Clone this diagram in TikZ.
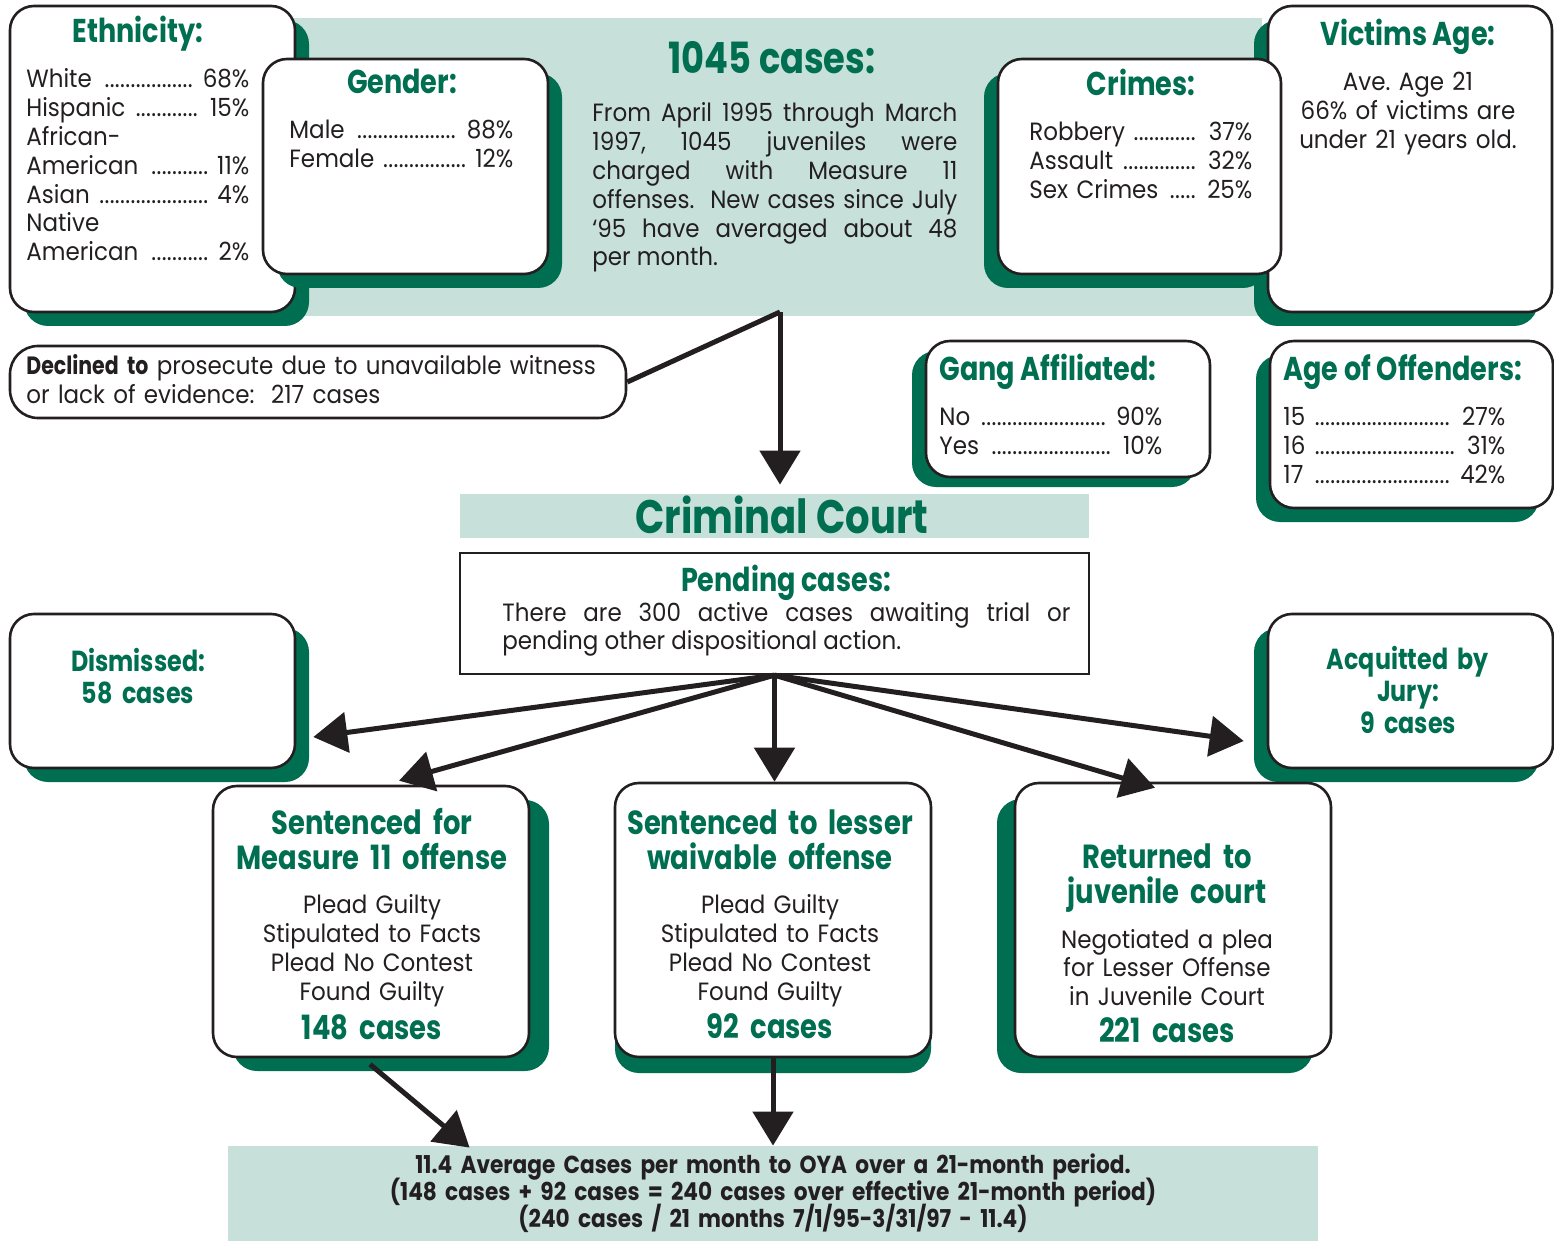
\documentclass[tikz,border=0pt]{standalone}
\usepackage{fontspec}
\setmainfont{Poppins}[UprightFeatures={FakeStretch=0.92}, BoldFeatures={FakeStretch=0.82}]
\newfontfamily\notefont{Poppins}[BoldFeatures={FakeStretch=0.88}]
\usetikzlibrary{arrows.meta,shadows,calc}
\definecolor{dkgreen}{RGB}{0,110,80}
\definecolor{paleg}{RGB}{199,224,217}
\definecolor{ink}{RGB}{35,31,32}
% dotted leader, a label/value row spanning the line, and a plain line
\newcommand\lead{\leaders\hbox to 2.6pt{\hss.\hss}\hfill}
\newcommand\lrow[2]{\noindent\hbox to\linewidth{#1\ \lead\ #2}\par}
\newcommand\lone[1]{\noindent\hbox{#1}\par}
% keep the baseline distance fixed even for tall lines
\newcommand\tightlines{\lineskiplimit=-\maxdimen\lineskip=0pt\relax}
\AtBeginDocument{\frenchspacing}

\begin{document}
\begin{tikzpicture}[x=0.5pt,y=-0.5pt,
  sz/.style 2 args={minimum width=#1*0.5pt, minimum height=#2*0.5pt},
  card/.style={draw=ink, line width=1.3pt, fill=white, rounded corners=12pt, inner sep=0pt},
  shad/.style 2 args={drop shadow={shadow xshift=#1*0.5pt, shadow yshift=-#2*0.5pt, fill=dkgreen, opacity=1}},
  band/.style={fill=paleg, inner sep=0pt},
  ttl/.style={font=\fontsize{16.5}{18}\selectfont\bfseries, text=dkgreen, inner sep=0pt, anchor=base},
  bigttl/.style={font=\fontsize{16.7}{17.5}\selectfont\bfseries, text=dkgreen, inner sep=0pt, anchor=base, align=center, text width=180pt},
  smttl/.style={font=\fontsize{14.5}{16}\selectfont\bfseries, text=dkgreen, inner sep=0pt, anchor=base, align=center, text width=140pt},
  bodyt/.style={font=\fontsize{12.5}{14.4}\selectfont, text=ink, inner sep=0pt},
  rows/.style={bodyt, anchor=base west, align=left, text width=#1*0.5pt},
  arr/.style={line width=2.5pt, draw=ink, -{Triangle[length=17pt,width=20pt]}},
  conn/.style={line width=2.5pt, draw=ink}]
\useasboundingbox (0,0) rectangle (1554,1241);

% top summary band
\node[band, sz={972}{298}] (topband) at (776,167) {};

% ethnicity and gender cards
\node[card, shad={14}{14}, sz={285}{306}] (eth) at (152.5,159) {};
\node[ttl] (eth-t) at (138,43) {Ethnicity:};
\node[rows=223] (eth-b) at (26,88) {%
  \lrow{White}{68\%}\lrow{Hispanic}{15\%}\lone{African-}%
  \lrow{American}{11\%}\lrow{Asian}{4\%}\lone{Native}\lrow{American}{2\%}};

\node[card, shad={14}{14}, sz={285}{215}] (gen) at (405.5,166.5) {};
\node[ttl] (gen-t) at (402,94) {Gender:};
\node[rows=224] (gen-b) at (289,139) {\lrow{Male}{88\%}\lrow{Female}{12\%}};

% totals paragraph
\node[font=\fontsize{21.5}{24}\selectfont\bfseries, text=dkgreen, inner sep=0pt, anchor=base] (tot-t) at (772,74) {1045 cases:};
\node[bodyt, anchor=base west, align=justify, text width=182.5pt] (tot-b) at (592,122) {%
  From April 1995 through March\linebreak 1997, 1045 juveniles were\linebreak
  charged with Measure 11\linebreak offenses.\ \ New cases since July\linebreak
  ‘95 have averaged about 48\linebreak per month.};

% victims and crimes cards
\node[card, shad={-14}{14}, sz={284}{306}] (vic) at (1410,159) {};
\node[ttl] (vic-t) at (1408,46) {Victims Age:};
\node[bodyt, anchor=base, align=center, text width=140pt] (vic-b) at (1408,91) {%
  Ave. Age 21\\66\% of victims are\\under 21 years old.};

\node[card, shad={-14}{14}, sz={283}{215}] (cri) at (1139.5,166.5) {};
\node[ttl] (cri-t) at (1141,96) {Crimes:};
\node[rows=223] (cri-b) at (1029,141) {%
  \lrow{Robbery}{37\%}\lrow{Assault}{32\%}\lrow{Sex Crimes}{25\%}};

% declined
\node[card, rounded corners=14pt, sz={616}{72}] (decl) at (318,382) {};
\node[bodyt, anchor=base west, align=left, text width=330pt] (decl-b) at (26,375) {%
  \textbf{Declined to} prosecute due to unavailable witness\\
  or lack of evidence:\ \ 217 cases};

% gang and offender age cards
\node[card, shad={-14}{10}, sz={284}{136}] (gang) at (1068,409) {};
\node[ttl, anchor=base west] (gang-t) at (939,380) {Gang Affiliated:};
\node[rows=223] (gang-b) at (939,426) {\lrow{No}{90\%}\lrow{Yes}{10\%}};

\node[card, shad={-14}{14}, sz={283}{167}] (age) at (1411.5,424.5) {};
\node[ttl, anchor=base west] (age-t) at (1283,380) {Age of Offenders:};
\node[rows=222] (age-b) at (1283,426) {%
  \lrow{15}{27\%}\lrow{16}{31\%}\lrow{17}{42\%}};

% criminal court
\node[band, sz={629}{44}] (court) at (774.5,516) {};
\node[font=\fontsize{23.5}{26}\selectfont\bfseries, text=dkgreen, inner sep=0pt, anchor=base] (court-t) at (782,533) {Criminal Court};

\node[draw=ink, line width=1.2pt, fill=white, inner sep=0pt, sz={629}{121}] (pend) at (774.5,613.5) {};
\node[font=\fontsize{16.5}{18}\selectfont\bfseries, text=dkgreen, inner sep=0pt, anchor=base] (pend-t) at (786,591) {Pending cases:};
\node[bodyt, anchor=base west, align=justify, text width=284pt] (pend-b) at (502,621) {%
  There are 300 active cases awaiting trial or\linebreak pending other dispositional action.};

% outcomes
\node[card, shad={14}{14}, sz={285}{154}] (dism) at (152.5,691) {};
\node[smttl] (dism-t) at (138,671) {Dismissed:\\58 cases};

\node[card, shad={-14}{14}, sz={285}{154}] (acq) at (1410.5,691) {};
\node[smttl] (acq-t) at (1408,669) {Acquitted by\\Jury:\\9 cases};

\node[card, shad={20}{14}, sz={316}{271}] (m11) at (371,921.5) {};
\node[bigttl] (m11-t) at (372,834) {Sentenced for\\Measure 11 offense};
\node[bodyt, anchor=base, align=center, text width=150pt, font=\fontsize{12.5}{14.65}\selectfont] (m11-b) at (372,913) {%
  Plead Guilty\\Stipulated to Facts\\Plead No Contest\\Found Guilty};
\node[bigttl] (m11-c) at (372,1039) {148 cases};

\node[card, shad={0}{16}, sz={316}{274}] (less) at (773,920) {};
\node[bigttl] (less-t) at (770,834) {Sentenced to lesser\\waivable offense};
\node[bodyt, anchor=base, align=center, text width=150pt, font=\fontsize{12.5}{14.65}\selectfont] (less-b) at (770,913) {%
  Plead Guilty\\Stipulated to Facts\\Plead No Contest\\Found Guilty};
\node[bigttl] (less-c) at (770,1038) {92 cases};

\node[card, shad={-18}{16}, sz={316}{274}] (ret) at (1173,920) {};
\node[bigttl] (ret-t) at (1167,868) {Returned to\\juvenile court};
\node[bodyt, anchor=base, align=center, text width=150pt] (ret-b) at (1167,948) {%
  Negotiated a plea\\for Lesser Offense\\in Juvenile Court};
\node[bigttl] (ret-c) at (1167,1042) {221 cases};

% monthly average band
\node[band, sz={1090}{95}] (oya) at (773,1193.5) {};
\node[font=\notefont\fontsize{12.3}{13.5}\selectfont\bfseries\tightlines, text=ink, inner sep=0pt, anchor=base, align=center, text width=520pt] (oya-b) at (773,1173) {%
  11.4 Average Cases per month to OYA over a 21-month period.\\
  (148 cases + 92 cases = 240 cases over effective 21-month period)\\
  (240 cases / 21 months 7/1/95-3/31/97 - 11.4)};

% connectors
\coordinate (apex) at (780,312);
\draw[conn] (apex) -- (decl.east);
\draw[arr] (apex) -- ($(court.north)+(5.5,-9)$);

\draw[arr] (pend.south) -- ($(dism.east)+(17,46)$);
\draw[arr] (pend.south) -- ($(m11.north)+(28,-4)$);
\draw[arr] (pend.south) -- (pend.south |- less.north);
\draw[arr] (pend.south) -- ($(ret.north)+(-18,6)$);
\draw[arr] (pend.south) -- ($(acq.west)+(-23,50)$);

\draw[arr] ($(m11.south)+(-1,6)$) -- ($(oya.north west)+(242,2)$);
\draw[arr] (less.south) -- (less.south |- oya.north);
\end{tikzpicture}
\end{document}
